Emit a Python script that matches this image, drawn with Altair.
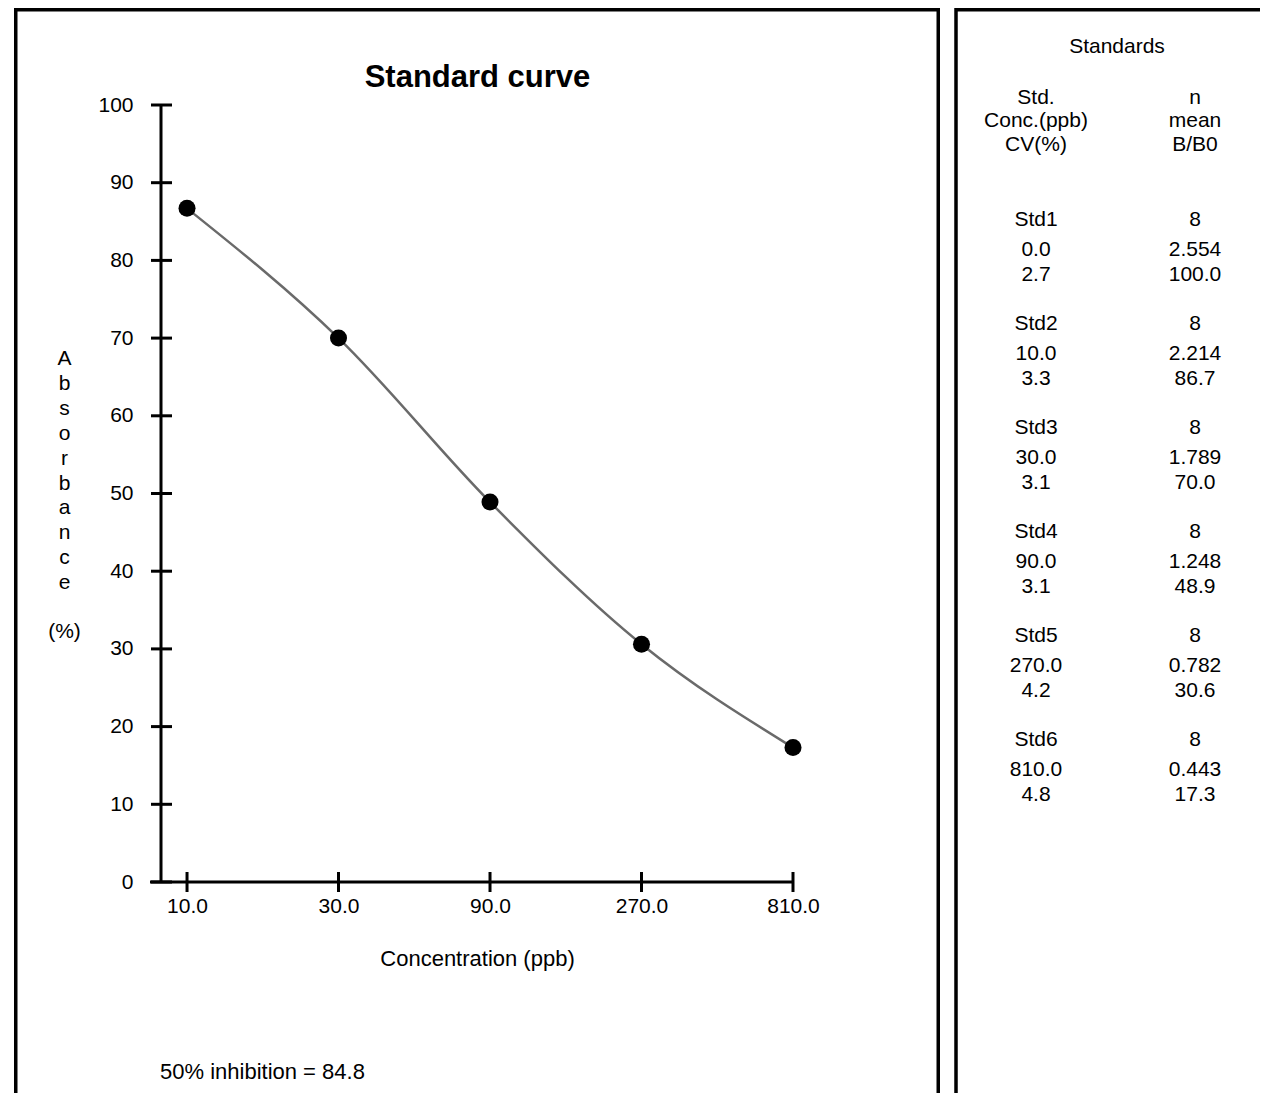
import altair as alt
import pandas as pd

# ---- data ----
std_names = ["Std1", "Std2", "Std3", "Std4", "Std5", "Std6"]
std_conc = [0.0, 10.0, 30.0, 90.0, 270.0, 810.0]
std_cv = [2.7, 3.3, 3.1, 3.1, 4.2, 4.8]
std_n = [8, 8, 8, 8, 8, 8]
std_mean = [2.554, 2.214, 1.789, 1.248, 0.782, 0.443]
std_bb0 = [100.0, 86.7, 70.0, 48.9, 30.6, 17.3]

x_ticks = [10, 30, 90, 270, 810]
y_ticks = list(range(0, 101, 10))
inhibition50 = 84.8

# ---- layout ----
OX, OY = 161, 105          # page position of plot origin
W, H = 632, 777            # plot area
FONT = "Liberation Sans"
FS = 21

curve = pd.DataFrame({"conc": std_conc[1:], "bb0": std_bb0[1:]})
one = pd.DataFrame({"a": [0]})

xscale = alt.Scale(type="log", domain=[8.28, 810], nice=False)
yscale = alt.Scale(domain=[0, 100], nice=False, zero=True)

xenc = alt.X("conc:Q", scale=xscale,
             axis=alt.Axis(values=x_ticks, format=".1f", domain=False, ticks=False, tickSize=0,
                           grid=False, labelFontSize=FS, labelFont=FONT, labelColor="black",
                           labelPadding=13, labelFlush=False, labelOverlap=False, title=None))
yenc = alt.Y("bb0:Q", scale=yscale,
             axis=alt.Axis(values=y_ticks, domain=False, ticks=False, tickSize=0,
                           grid=False, labelFontSize=FS, labelFont=FONT, labelColor="black",
                           labelPadding=28, labelFlush=False, labelOverlap=False, title=None))

def px(x):
    return x - OX

def py(y):
    return y - OY

# frames
left_box = alt.Chart(one).mark_rect(filled=False, stroke="black", strokeWidth=3.5).encode(
    x=alt.value(px(15.75)), x2=alt.value(px(938.25)), y=alt.value(py(9.75)), y2=alt.value(py(1140)))
right_box = alt.Chart(one).mark_rect(filled=False, stroke="black", strokeWidth=3.5).encode(
    x=alt.value(px(956)), x2=alt.value(px(1320)), y=alt.value(py(9.75)), y2=alt.value(py(1140)))

# axis lines
y_axis_line = alt.Chart(one).mark_rule(color="black", strokeWidth=3).encode(
    x=alt.value(0), y=alt.value(0), y2=alt.value(H))
x_axis_line = alt.Chart(one).mark_rule(color="black", strokeWidth=3).encode(
    y=alt.value(H), x=alt.value(-11), x2=alt.value(W))

# crossing ticks
yticks = alt.Chart(pd.DataFrame({"bb0": y_ticks})).mark_rule(color="black", strokeWidth=3).encode(
    y="bb0:Q", x=alt.value(-10), x2=alt.value(11))
xticks = alt.Chart(pd.DataFrame({"conc": x_ticks})).mark_rule(color="black", strokeWidth=3).encode(
    x="conc:Q", y=alt.value(H - 10), y2=alt.value(H + 10))

line = alt.Chart(curve).mark_line(interpolate="monotone", color="#6a6a6a", strokeWidth=2.5).encode(
    x=xenc, y=yenc)
points = alt.Chart(curve).mark_circle(size=290, color="black", opacity=1).encode(
    x="conc:Q", y="bb0:Q")

# texts
title = alt.Chart(one).mark_text(font=FONT, fontSize=31, fontWeight="bold", align="center",
                                 baseline="alphabetic", color="black").encode(
    x=alt.value(px(477.5)), y=alt.value(py(87)), text=alt.value("Standard curve"))
xtitle = alt.Chart(one).mark_text(font=FONT, fontSize=22, align="center",
                                  baseline="alphabetic", color="black").encode(
    x=alt.value(px(477.5)), y=alt.value(py(966)), text=alt.value("Concentration (ppb)"))
ytitle = alt.Chart(one).mark_text(font=FONT, fontSize=FS, align="center", baseline="alphabetic",
                                  color="black", lineBreak="\n", lineHeight=24.9).encode(
    x=alt.value(px(64.5)), y=alt.value(py(365)),
    text=alt.value("A\nb\ns\no\nr\nb\na\nn\nc\ne"))
ytitle_unit = alt.Chart(one).mark_text(font=FONT, fontSize=FS, align="center", baseline="alphabetic",
                                       color="black").encode(
    x=alt.value(px(64.5)), y=alt.value(py(638)), text=alt.value("(%)"))
inhib = alt.Chart(one).mark_text(font=FONT, fontSize=22, align="left", baseline="alphabetic",
                                 color="black").encode(
    x=alt.value(px(160)), y=alt.value(py(1079)),
    text=alt.value(f"50% inhibition = {inhibition50}"))

# table of standards
col_l, col_r = 1036, 1195
rows = [{"px": px(1117), "py": py(45), "t": "Standards"}]
for left_t, right_t, yy in [("Std.", "n", 96), ("Conc.(ppb)", "mean", 119.5), ("CV(%)", "B/B0", 143)]:
    rows.append({"px": px(col_l), "py": py(yy), "t": left_t})
    rows.append({"px": px(col_r), "py": py(yy), "t": right_t})
for i in range(len(std_names)):
    y0 = 218 + 104 * i
    cells = [
        (std_names[i], str(std_n[i]), 0),
        (f"{std_conc[i]:.1f}", f"{std_mean[i]:.3f}", 30.5),
        (f"{std_cv[i]:.1f}", f"{std_bb0[i]:.1f}", 55),
    ]
    for lt, rt, off in cells:
        rows.append({"px": px(col_l), "py": py(y0 + off), "t": lt})
        rows.append({"px": px(col_r), "py": py(y0 + off), "t": rt})
table_df = pd.DataFrame(rows)
table_df["py"] = table_df["py"] + 1.5

table = alt.Chart(table_df).mark_text(font=FONT, fontSize=FS, align="center", baseline="middle",
                                      color="black").encode(
    x=alt.X("px:Q", scale=None, axis=None),
    y=alt.Y("py:Q", scale=None, axis=None),
    text="t:N")

chart = alt.layer(
    left_box, right_box, line, points, y_axis_line, x_axis_line, yticks, xticks,
    title, xtitle, ytitle, ytitle_unit, inhib, table
).properties(
    width=W, height=H,
    padding={"left": 153, "top": 97, "right": 467, "bottom": 211},
    autosize=alt.AutoSizeParams(type="none"),
    background="white",
).configure_view(stroke=None)

chart.save("out.html", embed_options={"renderer": "svg", "actions": False})
